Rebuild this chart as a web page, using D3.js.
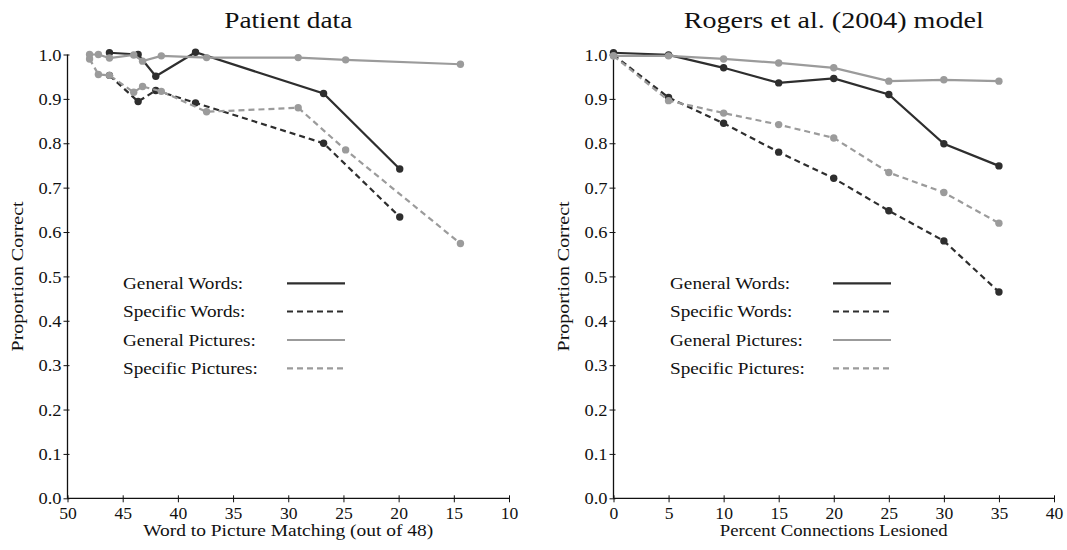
<!DOCTYPE html>
<html><head><meta charset="utf-8">
<script src="https://cdn.jsdelivr.net/npm/d3@7"></script>
<style>
html,body{margin:0;padding:0;background:#fff;}
text{font-family:"Liberation Serif","DejaVu Serif",serif;fill:#111;}
</style></head>
<body><svg id="chart" width="1067" height="550"></svg>
<script>
// ---- Data ----
const seriesNames = ["General Words", "Specific Words", "General Pictures", "Specific Pictures"];
// Patient data
const patientWordScores = [46.2, 43.6, 42.0, 38.4, 26.8, 19.9];
const patientGeneralWords = [1.004, 1.000, 0.951, 1.005, 0.912, 0.742];
const patientSpecificWords = [0.953, 0.894, 0.919, 0.891, 0.800, 0.634];
const patientPictureScores = [48.0, 47.2, 46.2, 44.0, 43.2, 41.5, 37.4, 29.1, 24.8, 14.4];
const patientGeneralPictures = [1.000, 1.000, 0.992, 0.999, 0.985, 0.997, 0.993, 0.993, 0.988, 0.978];
const patientSpecificPictures = [0.990, 0.955, 0.953, 0.915, 0.928, 0.917, 0.871, 0.880, 0.785, 0.574];
// Model data
const lesionPercent = [0, 5, 10, 15, 20, 25, 30, 35];
const modelGeneralWords = [1.004, 0.999, 0.970, 0.936, 0.946, 0.910, 0.799, 0.749];
const modelSpecificWords = [0.999, 0.903, 0.845, 0.780, 0.721, 0.648, 0.580, 0.465];
const modelGeneralPictures = [0.997, 0.997, 0.990, 0.981, 0.970, 0.940, 0.943, 0.940];
const modelSpecificPictures = [0.997, 0.896, 0.868, 0.842, 0.812, 0.734, 0.689, 0.620];
// Ticks
const yTicks = [0.0, 0.1, 0.2, 0.3, 0.4, 0.5, 0.6, 0.7, 0.8, 0.9, 1.0];
const patientXTicks = [50, 45, 40, 35, 30, 25, 20, 15, 10];
const modelXTicks = [0, 5, 10, 15, 20, 25, 30, 35, 40];

// ---- Styles ----
const DARK = "#2e2e2e", GRAY = "#9b9b9b";
const styles = [
  {color: DARK, dash: null},
  {color: DARK, dash: "6,4"},
  {color: GRAY, dash: null},
  {color: GRAY, dash: "6,4"}
];

const svg = d3.select("#chart");
const y = d3.scaleLinear().domain([0, 1]).range([498.3, 54.5]);

// widen glyphs to mimic the wider Computer Modern face
function stretch(sel, k) {
  sel.each(function () {
    const len = this.getComputedTextLength();
    d3.select(this).attr("textLength", len * k).attr("lengthAdjust", "spacingAndGlyphs");
  });
}

function panel(opts) {
  const g = svg.append("g");
  const x = d3.scaleLinear().domain(opts.xDomain).range(opts.xRange);
  const cx = (opts.xRange[0] + opts.xRange[1]) / 2;
  // title
  g.append("text").attr("x", cx).attr("y", 28)
    .attr("text-anchor", "middle").style("font-size", "23px")
    .attr("textLength", opts.titleLen).attr("lengthAdjust", "spacingAndGlyphs").text(opts.title);
  // y axis
  const ya = g.append("g").attr("transform", `translate(${opts.xRange[0]},0)`)
    .call(d3.axisLeft(y).tickValues(yTicks).tickFormat(d3.format(".1f")).tickSize(4).tickPadding(2));
  ya.select(".domain").attr("stroke", "#111").attr("stroke-width", 1.3).attr("d", `M0,${y(0)}V${y(1)}`);
  ya.selectAll(".tick line").attr("stroke", "#111").attr("x2", -4).attr("x1", 2);
  ya.selectAll(".tick text").style("font-size", "16px").attr("font-family", null).attr("dy", "0.35em").attr("fill", "#111");
  stretch(ya.selectAll(".tick text"), 1.15);
  // x axis
  const xa = g.append("g").attr("transform", `translate(0,${y(0)})`)
    .call(d3.axisBottom(x).tickValues(opts.xTicks).tickFormat(d3.format("d")).tickSize(4).tickPadding(5));
  xa.select(".domain").attr("stroke", "#111").attr("stroke-width", 1.3).attr("d", `M${opts.xRange[0]},0H${opts.xRange[1]}`);
  xa.selectAll(".tick line").attr("stroke", "#111").attr("y1", -3).attr("y2", 4);
  xa.selectAll(".tick text").style("font-size", "16px").attr("font-family", null).attr("fill", "#111");
  stretch(xa.selectAll(".tick text"), 1.1);
  // axis labels
  g.append("text").attr("x", cx).attr("y", 536)
    .attr("text-anchor", "middle").style("font-size", "16px")
    .attr("textLength", opts.xLabelLen).attr("lengthAdjust", "spacingAndGlyphs").text(opts.xLabel);
  g.append("text").attr("transform", `translate(${opts.xRange[0] - 45},${y(0.5)}) rotate(-90)`)
    .attr("text-anchor", "middle").style("font-size", "16px")
    .attr("textLength", 150).attr("lengthAdjust", "spacingAndGlyphs").text("Proportion Correct");
  // series
  const line = d3.line().x(d => x(d[0])).y(d => y(d[1]));
  opts.series.forEach((s, i) => {
    const pts = s.xs.map((xv, j) => [xv, s.ys[j]]);
    const st = styles[i];
    g.append("path").datum(pts).attr("d", line).attr("fill", "none")
      .attr("stroke", st.color).attr("stroke-width", 2.2)
      .attr("stroke-dasharray", st.dash);
    g.selectAll(null).data(pts).enter().append("circle")
      .attr("cx", d => x(d[0])).attr("cy", d => y(d[1])).attr("r", 3.7).attr("fill", st.color);
  });
  // legend
  const rows = [283.3, 311.5, 340, 368.3];
  seriesNames.forEach((name, i) => {
    const t = g.append("text").attr("x", opts.legendX).attr("y", rows[i]).attr("dy", "0.35em")
      .style("font-size", "16px").text(name + ":");
    stretch(t, 1.2);
    g.append("line").attr("x1", opts.legendLine[0]).attr("x2", opts.legendLine[1])
      .attr("y1", rows[i]).attr("y2", rows[i])
      .attr("stroke", styles[i].color).attr("stroke-width", 2.2).attr("stroke-dasharray", styles[i].dash);
  });
}

panel({
  title: "Patient data", titleLen: 128,
  xDomain: [50, 10], xRange: [67.5, 509], xTicks: patientXTicks,
  xLabel: "Word to Picture Matching (out of 48)", xLabelLen: 290,
  legendX: 123, legendLine: [287, 345],
  series: [
    {xs: patientWordScores, ys: patientGeneralWords},
    {xs: patientWordScores, ys: patientSpecificWords},
    {xs: patientPictureScores, ys: patientGeneralPictures},
    {xs: patientPictureScores, ys: patientSpecificPictures}
  ]
});

panel({
  title: "Rogers et al. (2004) model", titleLen: 300,
  xDomain: [0, 40], xRange: [613.5, 1054], xTicks: modelXTicks,
  xLabel: "Percent Connections Lesioned", xLabelLen: 228,
  legendX: 670, legendLine: [833, 891],
  series: [
    {xs: lesionPercent, ys: modelGeneralWords},
    {xs: lesionPercent, ys: modelSpecificWords},
    {xs: lesionPercent, ys: modelGeneralPictures},
    {xs: lesionPercent, ys: modelSpecificPictures}
  ]
});
</script>
</body></html>
